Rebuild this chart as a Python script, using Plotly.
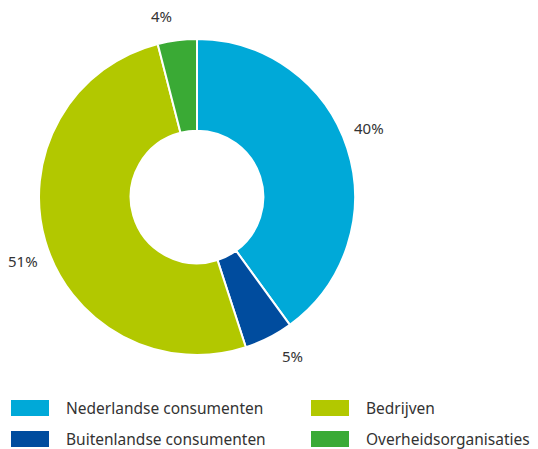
import math
import plotly.graph_objects as go

categories = ["Nederlandse consumenten", "Buitenlandse consumenten", "Bedrijven", "Overheidsorganisaties"]
values = [40, 5, 51, 4]
colors = ["#00a9d8", "#004c9e", "#b2c800", "#3aaa35"]

W, H = 538, 449
cx, cy, R = 197, 197, 158

fig = go.Figure(go.Pie(
    labels=categories,
    values=values,
    marker=dict(colors=colors, line=dict(color="white", width=2)),
    hole=0.42,
    sort=False,
    direction="clockwise",
    rotation=0,
    textinfo="none",
    hoverinfo="skip",
    showlegend=False,
    domain=dict(x=[(cx - R) / W, (cx + R) / W], y=[1 - (cy + R) / H, 1 - (cy - R) / H]),
))

shapes, annotations = [], []

# percentage labels outside the ring, positioned from the slice angles
total = sum(values)
cum = 0
label_r = 185
for v in values:
    mid = (cum + v / 2) / total * 360 - 4
    cum += v
    a = math.radians(mid)
    px = cx + math.sin(a) * label_r
    py = cy - math.cos(a) * label_r
    annotations.append(dict(x=px / W, y=1 - py / H, xref="paper", yref="paper",
                            text=f"{v}%", showarrow=False, xanchor="center", yanchor="middle",
                            font=dict(family="Noto Sans", size=15, color="#333333")))

# legend
legend_pos = [(11, 400), (11, 431), (311, 400), (311, 431)]
for (lx, ly), name, col in zip(legend_pos, categories, colors):
    shapes.append(dict(type="rect", xref="paper", yref="paper",
                       x0=lx / W, x1=(lx + 38) / W, y0=1 - (ly + 16) / H, y1=1 - ly / H,
                       fillcolor=col, line=dict(width=0)))
    annotations.append(dict(x=(lx + 54) / W, y=1 - (ly + 7.5) / H, xref="paper", yref="paper",
                            text=name, showarrow=False, xanchor="left", yanchor="middle",
                            borderpad=0,
                            font=dict(family="Noto Sans", size=15.5, color="#333333")))

fig.update_layout(
    width=W, height=H,
    margin=dict(l=0, r=0, t=0, b=0),
    paper_bgcolor="white",
    shapes=shapes, annotations=annotations,
)
fig.write_html("out.html",
               config={"displayModeBar": False},
               post_script="document.body.style.margin='0';document.body.style.overflow='hidden';")
